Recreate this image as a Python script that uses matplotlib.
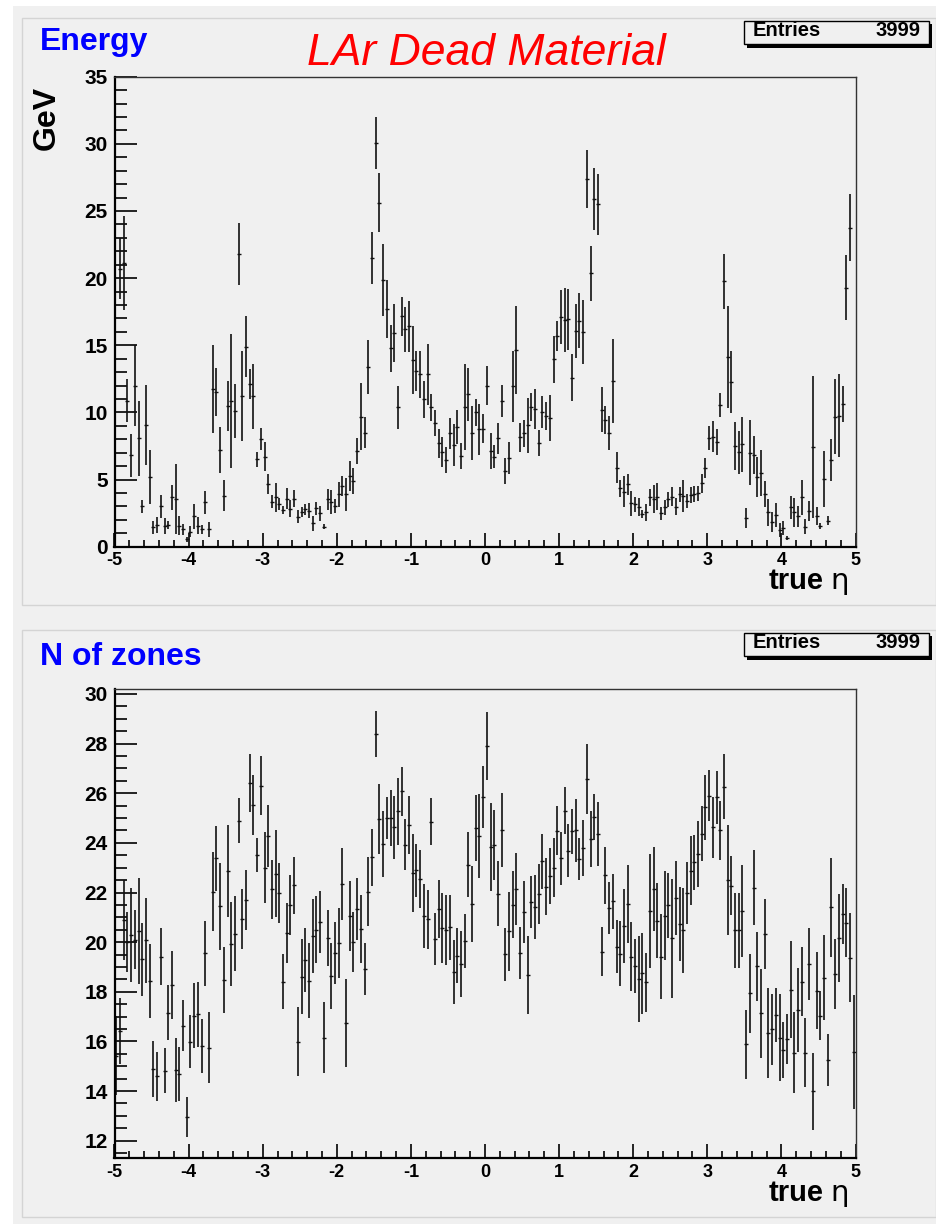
import numpy as np
import matplotlib
matplotlib.use("Agg")
import matplotlib.pyplot as plt
from matplotlib.patches import Rectangle
from matplotlib.ticker import MultipleLocator

plt.rcParams['font.family'] = ['Liberation Sans', 'DejaVu Sans']
plt.rcParams['axes.unicode_minus'] = False

# profile histograms: 200 bins in true eta, -5 .. 5
n_bins = 200
eta_lo, eta_hi = -5.0, 5.0
entries = 3999

# top pad: dead material energy (GeV) per bin, None = empty bin
energy = [
    None, 20.7, 21.1, 10.87, 6.8, 12.0, 8.06, 3.0, 9.06, 5.2,
    1.44, 1.59, 3.0, 1.54, 1.64, 3.67, 3.55, 1.56, 1.29, 0.55,
    1.12, 2.28, 1.56, 1.29, 3.3, 1.29, 11.74, 11.54, 7.2, 3.8,
    10.5, 10.87, 10.1, 21.8, 11.2, 14.9, 12.1, 11.2, 6.5, 8.0,
    6.7, 4.67, 3.35, 3.67, 3.2, 2.7, 3.57, 2.83, 3.57, 2.23,
    2.58, 2.78, 2.68, 1.74, 2.85, 2.48, 1.49, 3.52, 3.35, 3.03,
    3.92, 4.54, 3.92, 5.26, 4.89, 7.12, 9.68, 8.5, 13.4, 21.5,
    30.07, 25.6, 19.85, 17.7, 14.76, 15.93, 10.37, 17.17, 16.2, 16.4,
    13.9, 13.1, 12.85, 10.97, 12.83, 10.37, 9.23, 7.7, 7.07, 6.45,
    8.44, 7.57, 8.93, 6.75, 10.42, 11.34, 8.49, 10.0, 8.76, 8.8,
    11.98, 7.15, 6.7, 8.06, 10.84, 5.63, 6.58, 11.96, 14.64, 8.14,
    8.44, 9.06, 10.42, 10.25, 7.74, 10.05, 9.73, 9.6, 13.95, 15.7,
    17.12, 16.87, 16.95, 12.6, 16.05, 16.82, 16.0, 27.4, 20.35, 25.9,
    25.5, 10.2, 9.43, 8.44, 12.36, 5.88, 4.34, 4.1, 4.64, 3.22,
    3.15, 2.93, 2.43, 2.56, 3.67, 3.55, 3.72, 2.48, 2.93, 3.52,
    3.72, 2.98, 3.92, 3.8, 3.4, 3.85, 3.92, 3.97, 4.71, 5.83,
    8.11, 8.19, 7.82, 10.55, 19.78, 14.14, 12.28, 7.52, 7.02, 7.62,
    2.16, 7.0, 6.82, 5.2, 5.5, 3.9, 2.56, 1.86, 2.36, 1.24,
    1.36, 0.67, 2.93, 2.56, 2.28, 3.67, 1.49, 2.68, 7.44, 2.28,
    1.54, 5.04, 1.94, 6.45, 9.68, 9.75, 10.62, 19.3, 23.75, None,
]
energy_err = [
    None, 2.27, 3.5, 1.6, 1.6, 3.0, 2.8, 0.5, 3.0, 2.0,
    0.5, 0.6, 0.85, 0.57, 0.3, 0.93, 2.6, 0.7, 0.4, 0.2,
    0.4, 0.93, 0.63, 0.32, 0.85, 0.55, 3.26, 1.77, 1.7, 1.15,
    1.86, 5.0, 2.0, 2.3, 3.35, 2.3, 1.1, 2.4, 0.56, 0.83,
    1.1, 0.75, 0.5, 1.05, 0.45, 0.3, 0.78, 0.65, 0.62, 0.5,
    0.35, 0.43, 0.55, 0.56, 0.47, 0.55, 0.2, 0.77, 0.9, 0.5,
    0.93, 0.75, 1.23, 1.1, 1.0, 0.95, 2.5, 1.15, 2.0, 1.9,
    1.95, 2.2, 2.68, 2.15, 1.76, 2.15, 1.6, 1.45, 1.67, 1.9,
    2.5, 1.5, 1.74, 1.4, 2.3, 1.0, 0.96, 1.1, 1.1, 0.94,
    1.18, 1.55, 1.27, 0.94, 3.2, 1.95, 2.0, 1.0, 1.9, 1.1,
    1.45, 1.33, 0.85, 1.17, 1.2, 0.96, 1.2, 2.64, 3.3, 1.08,
    1.03, 2.05, 1.05, 1.5, 0.96, 1.18, 1.05, 1.7, 1.76, 1.1,
    2.0, 2.4, 2.27, 1.75, 2.0, 2.05, 2.4, 2.16, 2.06, 2.3,
    2.26, 1.66, 1.05, 1.27, 3.14, 1.15, 0.66, 1.16, 0.8, 0.9,
    0.53, 0.68, 0.33, 0.62, 0.66, 1.05, 1.0, 0.47, 0.58, 0.55,
    0.72, 0.62, 0.56, 1.2, 0.53, 0.62, 0.6, 0.58, 0.7, 0.74,
    0.9, 1.14, 0.96, 0.92, 2.05, 3.8, 2.3, 1.8, 1.58, 2.05,
    0.74, 2.4, 1.4, 1.5, 1.7, 0.98, 1.0, 0.76, 0.92, 0.52,
    0.52, 0.15, 0.86, 1.1, 0.78, 1.33, 0.56, 0.73, 5.3, 0.7,
    0.25, 2.1, 0.33, 1.54, 2.78, 3.1, 1.36, 2.43, 2.5, None,
]

# bottom pad: number of zones per bin
zones = [
    15.43, 16.42, 20.9, 20.0, 20.3, 20.1, 20.45, 19.31, 20.07, 18.45,
    14.88, 14.6, 19.42, 14.82, 17.16, 18.28, 14.85, 14.67, 16.64, 12.94,
    15.99, 17.04, 17.1, 15.82, 19.55, 15.75, 22.04, 23.38, 21.45, 18.48,
    22.88, 19.93, 20.34, 24.9, 20.94, 21.7, 26.41, 25.53, 23.52, 26.31,
    23.0, 24.28, 22.13, 22.75, 21.97, 18.41, 20.36, 21.5, 22.3, 15.99,
    18.61, 19.28, 18.45, 20.25, 20.5, 20.8, 16.15, 20.16, 18.64, 19.55,
    19.96, 22.35, 16.73, 21.06, 20.0, 21.33, 20.53, 18.91, 22.04, 23.42,
    28.4, 24.96, 23.95, 25.0, 25.0, 24.63, 25.27, 26.07, 23.92, 24.73,
    22.78, 22.89, 22.54, 21.06, 20.92, 24.86, 20.12, 21.33, 20.56, 20.49,
    20.59, 18.79, 19.45, 19.11, 20.05, 23.12, 21.55, 24.6, 24.28, 25.84,
    27.91, 23.85, 23.9, 21.95, 24.5, 19.51, 20.43, 21.5, 22.15, 19.55,
    21.23, 18.68, 21.6, 21.41, 21.95, 23.25, 22.24, 22.65, 23.0, 24.49,
    23.38, 25.3, 23.69, 24.46, 24.5, 23.36, 23.79, 26.58, 24.15, 25.04,
    24.35, 19.62, 22.69, 21.37, 21.64, 19.82, 19.53, 20.66, 21.54, 19.42,
    19.04, 18.5, 18.75, 18.38, 21.25, 22.15, 20.87, 19.42, 21.07, 21.48,
    20.16, 21.77, 20.72, 20.47, 21.97, 22.87, 23.22, 23.55, 24.37, 25.44,
    25.9, 24.62, 25.83, 24.5, 26.27, 22.5, 22.28, 20.47, 20.47, 21.26,
    15.88, 17.94, 22.2, 19.02, 17.13, 20.32, 16.33, 16.49, 17.07, 16.15,
    15.66, 16.09, 18.08, 15.55, 17.27, 18.41, 15.55, 19.11, 14.0, 18.05,
    17.04, 18.57, 15.25, 21.4, 18.71, 20.16, 21.14, 20.79, 19.38, 15.59,
]
zones_err = [
    1.58, 1.34, 1.6, 1.2, 1.9, 1.2, 2.15, 1.48, 1.7, 1.49,
    1.14, 0.99, 1.16, 0.9, 1.1, 1.36, 1.28, 1.09, 1.03, 0.8,
    1.08, 1.31, 1.31, 1.08, 1.3, 1.43, 1.6, 1.31, 1.75, 1.34,
    1.85, 1.7, 1.5, 0.9, 1.2, 1.2, 1.16, 1.2, 0.69, 1.18,
    1.42, 1.24, 1.18, 1.75, 1.2, 1.1, 1.2, 1.2, 1.15, 1.39,
    1.5, 1.28, 1.5, 1.5, 1.35, 1.25, 1.44, 1.13, 1.33, 1.25,
    1.4, 1.44, 1.77, 1.4, 1.2, 1.26, 1.37, 1.04, 1.4, 1.14,
    0.92, 1.4, 1.34, 0.86, 1.12, 1.26, 1.36, 0.99, 1.03, 1.16,
    1.58, 1.07, 1.16, 1.3, 1.2, 0.94, 1.04, 1.17, 1.4, 1.4,
    1.3, 1.3, 1.1, 1.32, 1.1, 1.32, 1.53, 1.34, 1.68, 1.26,
    1.38, 1.77, 1.41, 1.3, 1.49, 1.06, 1.6, 1.35, 1.45, 1.05,
    1.25, 1.56, 1.05, 1.3, 1.2, 1.1, 1.14, 1.13, 1.19, 0.99,
    1.07, 0.94, 1.06, 0.91, 1.27, 0.85, 1.13, 1.41, 1.12, 0.94,
    1.28, 1.0, 1.14, 1.04, 1.1, 1.08, 1.31, 1.5, 1.56, 1.38,
    1.08, 1.73, 1.63, 1.18, 2.3, 1.7, 1.5, 1.7, 1.8, 1.3,
    2.4, 1.5, 1.5, 1.7, 1.25, 1.39, 1.1, 1.34, 1.12, 1.31,
    1.03, 1.22, 1.05, 1.19, 1.3, 2.2, 1.2, 1.5, 1.5, 1.85,
    1.4, 1.6, 1.5, 1.39, 1.78, 1.4, 1.81, 1.44, 1.1, 1.75,
    1.14, 1.01, 1.96, 1.64, 1.7, 1.4, 1.38, 1.44, 1.55, 1.55,
    1.0, 1.7, 1.06, 2.0, 1.4, 1.77, 1.2, 1.4, 1.81, 2.3,
]

W, H = 936, 1224
fig = plt.figure(figsize=(W / 100, H / 100), dpi=100, facecolor='white')


def fx(px):
    return px / W


def fy(py):
    return 1 - py / H


bg = '#f0f0f0'
# canvas + the two pads
fig.patches.append(Rectangle((fx(13), 0), 1 - fx(13), fy(6), transform=fig.transFigure,
                             fc=bg, ec='none', zorder=-10))
for top, bot in [(18, 605), (630, 1217)]:
    fig.patches.append(Rectangle((fx(22), fy(bot)), 1 - fx(22), fy(top) - fy(bot),
                                 transform=fig.transFigure, fc=bg, ec='#d4d4d4',
                                 lw=1.0, zorder=-9))

edges = np.linspace(eta_lo, eta_hi, n_bins + 1)
eta = 0.5 * (edges[:-1] + edges[1:])


def draw_panel(ax, vals, errs, ylim, ymajor, yminor):
    v = np.array([np.nan if a is None else a for a in vals], dtype=float)
    e = np.array([np.nan if a is None else a for a in errs], dtype=float)
    ax.set_facecolor(bg)
    ax.errorbar(eta, v, yerr=e, fmt='_', color='#111111', ms=3, mew=1.0,
                elinewidth=1.2, capsize=0)
    ax.set_xlim(eta_lo, eta_hi)
    ax.set_ylim(*ylim)
    ax.xaxis.set_major_locator(MultipleLocator(1))
    ax.xaxis.set_minor_locator(MultipleLocator(0.2))
    ax.yaxis.set_major_locator(MultipleLocator(ymajor))
    ax.yaxis.set_minor_locator(MultipleLocator(yminor))
    ax.tick_params(axis='x', which='major', direction='in', length=10, width=1.2,
                   labelsize=13, pad=4)
    ax.tick_params(axis='x', which='minor', direction='in', length=5, width=1.2)
    ax.tick_params(axis='y', which='major', direction='in', length=16, width=1.2,
                   labelsize=15, pad=5)
    ax.tick_params(axis='y', which='minor', direction='in', length=8.5, width=1.2)
    for lab in ax.get_xticklabels() + ax.get_yticklabels():
        lab.set_fontweight('bold')
    ax.spines['left'].set_linewidth(1.6)
    ax.spines['bottom'].set_linewidth(1.6)
    for s in ('top', 'right'):
        ax.spines[s].set_linewidth(1.0)
        ax.spines[s].set_color('#333333')


def stats_box(top, bot):
    x0, x1 = 744, 929
    fig.patches.append(Rectangle((fx(x0 + 3), fy(bot + 3.5)), fx(x1) - fx(x0),
                                 fy(top) - fy(bot), transform=fig.transFigure,
                                 fc='black', ec='none', zorder=5))
    fig.patches.append(Rectangle((fx(x0), fy(bot)), fx(x1) - fx(x0), fy(top) - fy(bot),
                                 transform=fig.transFigure, fc=bg, ec='black',
                                 lw=1.0, zorder=6))
    fig.text(fx(753), fy(bot - 8), 'Entries', fontsize=14.5, fontweight='bold',
             ha='left', va='baseline', zorder=7)
    fig.text(fx(920), fy(bot - 8), str(entries), fontsize=14.5, fontweight='bold',
             ha='right', va='baseline', zorder=7)


def eta_label(baseline):
    fig.text(fx(824), fy(baseline), 'true', fontsize=21, fontweight='bold',
             ha='right', va='baseline')
    fig.text(fx(830), fy(baseline), '\u03b7', fontsize=21, family='DejaVu Sans',
             ha='left', va='baseline')


ax1 = fig.add_axes([fx(114.5), fy(546.7), fx(855.5) - fx(114.5), fy(76.7) - fy(546.7)])
draw_panel(ax1, energy, energy_err, (0, 35), 5, 1)

ax2 = fig.add_axes([fx(114.5), fy(1158.3), fx(855.5) - fx(114.5), fy(689) - fy(1158.3)])
draw_panel(ax2, zones, zones_err, (11.29, 30.2), 2, 0.5)

fig.text(fx(40), fy(50), 'Energy', color='#0000ff', fontsize=23, fontweight='bold',
         ha='left', va='baseline')
fig.text(fx(307), fy(65), 'LAr Dead Material', color='#ff0000', fontsize=32,
         style='italic', ha='left', va='baseline')
fig.text(fx(47), fy(118), 'GeV', fontsize=23, fontweight='bold', rotation=90,
         ha='center', va='center')
stats_box(20.7, 44)
eta_label(589)

fig.text(fx(40), fy(665), 'N of zones', color='#0000ff', fontsize=23, fontweight='bold',
         ha='left', va='baseline')
stats_box(632.7, 656)
eta_label(1201)

fig.savefig('out.png', dpi=100, facecolor=fig.get_facecolor())
